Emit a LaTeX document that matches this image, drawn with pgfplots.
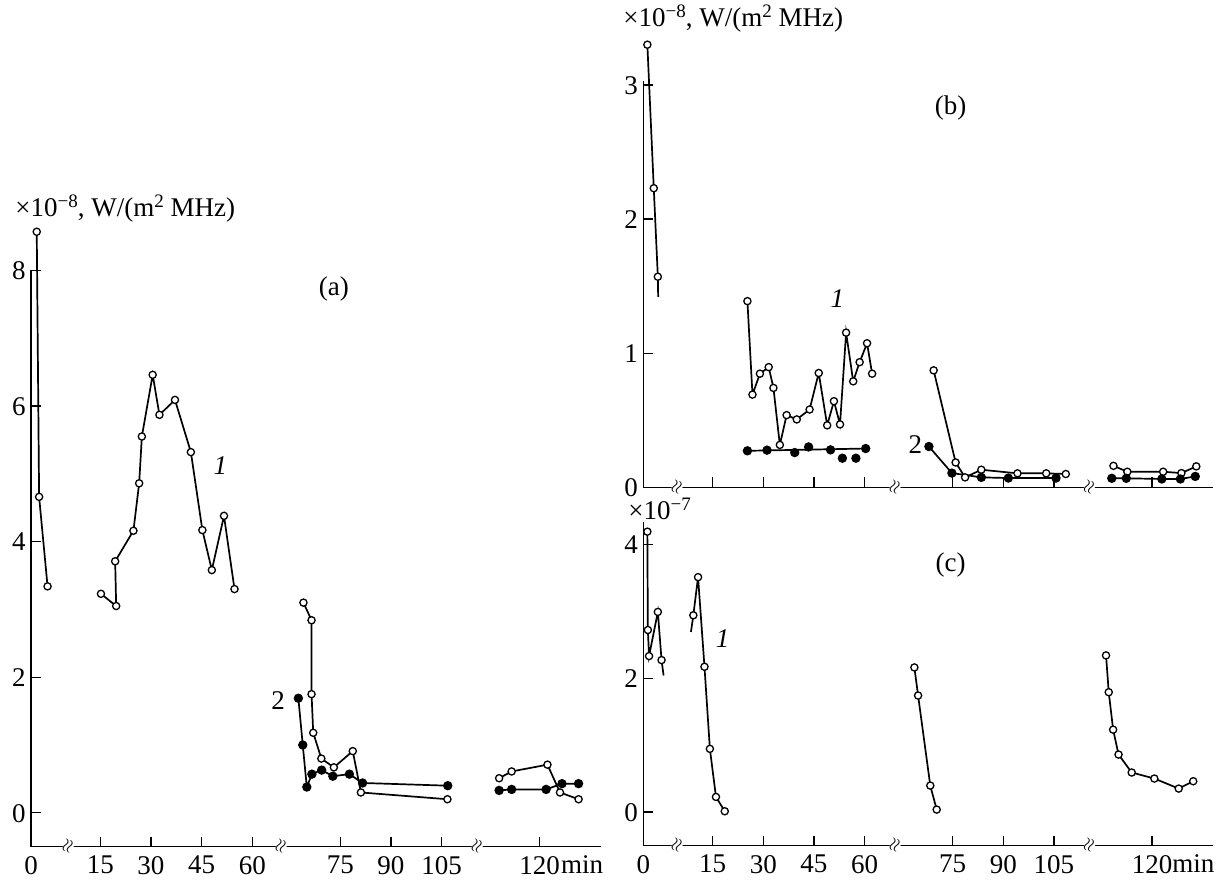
\documentclass[border=0pt]{standalone}
\usepackage{fontspec}
\setmainfont{Liberation Serif}
\usepackage{pgfplots}
\pgfplotsset{compat=1.18}
\newcommand{\tl}[1]{\mbox{\fontsize{13.5}{16}\selectfont #1}}
\pgfplotsset{
  panel/.style={
    scale only axis, width=284.77pt,
    xmin=0, xmax=168.5,
    axis x line=bottom, axis y line=left,
    axis line style={-, line width=0.6pt, black},
    tick align=inside, major tick length=5pt,
    tick style={line width=0.6pt, black},
    xtick={0,20.5,35.5,50.5,65.5,91.5,106.5,121.5,150.5},
    xticklabels={\tl{0},\tl{15},\tl{30},\tl{45},\tl{60},\tl{75},\tl{90},\tl{105},\tl{120}},
    yticklabel style={inner xsep=2.5pt, inner ysep=0pt, text height=9.2pt, text depth=0pt},
    xticklabel style={inner xsep=0pt, inner ysep=4.5pt},
    clip=false,
    /pgf/number format/assume math mode=true,
  },
}
\tikzset{
  op/.style={black, line width=0.85pt, mark=*, mark size=1.8pt, mark options={fill=white, line width=0.65pt}},
  fl/.style={black, line width=0.85pt, mark=*, mark size=1.9pt, mark options={fill=black}},
  ln/.style={black, line width=0.85pt},
  brk/.style={inner sep=0.3pt, fill=white, rotate=70, font=\fontsize{9}{9}\selectfont},
}
\newcommand{\sups}[1]{\raisebox{0.34em}{\fontsize{9.5}{10}\selectfont #1}}
\begin{document}
\fontsize{13.5}{16}\selectfont
\begin{tikzpicture}[font=\fontsize{13.5}{16}\selectfont]
\useasboundingbox (0,0) rectangle (608pt,439.5pt);

% ---------------- panel (a) ----------------
\begin{axis}[panel, at={(15.5pt,16.15pt)}, anchor=south west,
  height=288.15pt, ymin=-0.5, ymax=8, ytick={0,2,4,6,8},
  yticklabels={\tl{0},\tl{2},\tl{4},\tl{6},\tl{8}}]
\addplot[op] coordinates {(1.7,8.57) (2.4,4.66) (4.9,3.34)};
\addplot[op] coordinates {(20.7,3.23) (25.2,3.05) (24.9,3.71) (30.3,4.16) (32.0,4.86) (32.8,5.55) (36.0,6.46) (38.0,5.87) (42.6,6.09) (47.3,5.32) (50.7,4.17) (53.5,3.58) (57.1,4.38) (60.2,3.30)};
\addplot[op] coordinates {(80.6,3.10) (83.0,2.84) (83.0,1.75) (83.5,1.18) (85.9,0.80) (89.6,0.67) (95.2,0.91) (97.6,0.30) (123.2,0.20)};
\addplot[fl] coordinates {(79.1,1.69) (80.4,1.00) (81.6,0.38) (83.1,0.57) (86.0,0.63) (89.3,0.54) (94.2,0.57) (98.1,0.44) (123.3,0.40)};
\addplot[op] coordinates {(138.5,0.51) (142.2,0.61) (152.8,0.71) (156.5,0.30) (162.0,0.20)};
\addplot[fl] coordinates {(138.5,0.33) (142.2,0.345) (152.4,0.345) (157.1,0.43) (162.0,0.43)};
\node[brk] at (axis cs:11,-0.5) {$\approx$};
\node[brk] at (axis cs:74,-0.5) {$\approx$};
\node[brk] at (axis cs:132,-0.5) {$\approx$};
\node[anchor=north east, inner sep=0pt, yshift=-4.5pt, xshift=1.5pt] at (axis cs:168.5,-0.5) {min};
\node at (axis cs:89.6,7.72) {(a)};
\node at (axis cs:56.0,5.12) {\itshape 1};
\node at (axis cs:73.1,1.66) {2};
\end{axis}

% ---------------- panel (b) ----------------
\begin{axis}[panel, at={(321.65pt,195.85pt)}, anchor=south west,
  height=203.2pt, ymin=0, ymax=3.03, ytick={0,1,2,3},
  yticklabels={\tl{0},\tl{1},\tl{2},\tl{3}}, xticklabels={}]
\addplot[op] coordinates {(1.2,3.30) (3.1,2.23) (4.3,1.57)};
\addplot[ln] coordinates {(4.3,1.57) (4.4,1.42)};
\addplot[op] coordinates {(30.8,1.388) (32.3,0.691) (34.5,0.847) (37.1,0.896) (38.5,0.741) (40.4,0.316) (42.4,0.538) (45.4,0.506) (49.2,0.580) (51.9,0.852) (54.4,0.462) (56.4,0.642) (58.2,0.469) (60.0,1.153) (62.1,0.790) (64.0,0.933) (66.2,1.074) (67.7,0.847)};
\addplot[ln] coordinates {(30.8,0.272) (65.8,0.289)};
\addplot[fl, only marks] coordinates {(30.8,0.272) (36.6,0.277) (44.8,0.259) (48.9,0.301) (55.4,0.279) (58.9,0.217) (62.9,0.217) (65.8,0.289)};
\addplot[op] coordinates {(85.9,0.872) (92.4,0.185) (95.2,0.074) (100.0,0.131) (110.7,0.104) (119.2,0.104) (125.0,0.099)};
\addplot[fl] coordinates {(84.5,0.304) (91.3,0.106) (100.0,0.074) (108.0,0.069) (122.1,0.069)};
\addplot[op] coordinates {(139.1,0.160) (143.2,0.116) (153.8,0.116) (159.2,0.106) (163.6,0.156)};
\addplot[fl] coordinates {(138.6,0.067) (142.9,0.067) (153.4,0.062) (158.9,0.062) (163.3,0.081)};
\node[brk] at (axis cs:10,0) {$\approx$};
\node[brk] at (axis cs:74.5,0) {$\approx$};
\node[brk] at (axis cs:132,0) {$\approx$};
\node at (axis cs:90.9,2.83) {(b)};
\node at (axis cs:57.4,1.41) {\itshape 1};
\node at (axis cs:80.5,0.32) {2};
\end{axis}

% ---------------- panel (c) ----------------
\begin{axis}[panel, at={(321.65pt,16.65pt)}, anchor=south west,
  height=161.7pt, ymin=-0.505, ymax=4.33, ytick={0,2,4},
  yticklabels={\tl{0},\tl{2},\tl{4}}]
\addplot[op] coordinates {(1.2,4.19) (1.35,2.72) (1.7,2.33) (4.3,2.99) (5.4,2.27)};
\addplot[ln] coordinates {(5.4,2.27) (6.0,2.04)};
\addplot[ln] coordinates {(14.1,2.69) (14.8,2.94)};
\addplot[op] coordinates {(14.8,2.94) (16.2,3.51) (18.1,2.17) (19.7,0.943) (21.5,0.224) (24.1,0.010)};
\addplot[op] coordinates {(80.2,2.16) (81.3,1.74) (84.9,0.394) (86.8,0.035)};
\addplot[op] coordinates {(136.9,2.34) (137.7,1.79) (139.0,1.23) (140.6,0.858) (144.5,0.589) (151.2,0.499) (158.4,0.349) (162.7,0.459)};
\node[brk] at (axis cs:10,-0.505) {$\approx$};
\node[brk] at (axis cs:74.5,-0.505) {$\approx$};
\node[brk] at (axis cs:132,-0.505) {$\approx$};
\node[anchor=north east, inner sep=0pt, yshift=-4.5pt, xshift=1pt] at (axis cs:168.5,-0.505) {min};
\node at (axis cs:90.9,3.69) {(c)};
\node at (axis cs:23.5,2.59) {\itshape 1};
\end{axis}

% ---------------- unit labels ----------------
\node[anchor=base west, inner sep=0pt] at (7.5pt,331.15pt) {×10\sups{−8}, W/(m\sups{2} MHz)};
\node[anchor=base west, inner sep=0pt] at (311.5pt,426pt) {×10\sups{−8}, W/(m\sups{2} MHz)};
\node[anchor=base west, inner sep=0pt, text height=9.2pt] at (314pt,179.6pt) {×10\smash{\sups{−7}}};
\end{tikzpicture}
\end{document}
